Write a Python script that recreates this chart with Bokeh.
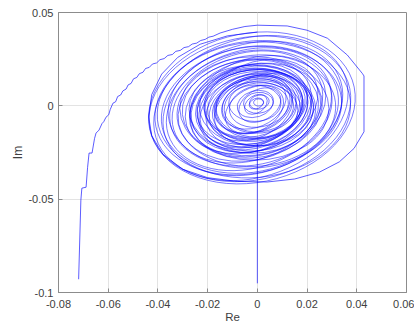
from bokeh.plotting import figure
from bokeh.models import FixedTicker
from bokeh.embed import file_html
from bokeh.resources import INLINE

# ---- data ----
# tail: vertical segment at Re = 0
tail_re = [0.0, 0.0]
tail_im = [-0.0951, -0.0205]

# left staircase arc joining into the outermost orbit
arc_re = [-0.0719, -0.0710, -0.0706, -0.0689, -0.0683, -0.0677, -0.0665, -0.0655, -0.0649, -0.0637,
          -0.0625, -0.0618, -0.0609, -0.0598, -0.0592, -0.0581, -0.0570, -0.0562, -0.0550, -0.0541,
          -0.0528, -0.0520, -0.0508, -0.0498, -0.0485, -0.0475, -0.0460, -0.0450, -0.0435, -0.0422,
          -0.0405, -0.0392, -0.0375, -0.0360, -0.0342, -0.0328, -0.0310, -0.0295, -0.0277, -0.0262,
          -0.0244, -0.0228, -0.0210, -0.0195, -0.0178, -0.0150, -0.0100, -0.0050, 0.0000,
          0.0120, 0.0200, 0.0282, 0.0362, 0.0422, 0.0429, 0.0429, 0.0389, 0.0330, 0.0250,
          0.0150, 0.0040, -0.0080, -0.0200, -0.0300, -0.0380, -0.0425, -0.0437, -0.0425, -0.0385,
          -0.0320, -0.0230, -0.0120, 0.0000]
arc_im = [-0.0929, -0.0505, -0.0441, -0.0436, -0.0330, -0.0253, -0.0253, -0.0175, -0.0146, -0.0130,
          -0.0095, -0.0085, -0.0061, -0.0048, -0.0020, 0.0014, 0.0022, 0.0050, 0.0058, 0.0080,
          0.0090, 0.0112, 0.0120, 0.0145, 0.0152, 0.0172, 0.0180, 0.0200, 0.0206, 0.0224,
          0.0230, 0.0247, 0.0253, 0.0270, 0.0275, 0.0292, 0.0297, 0.0312, 0.0317, 0.0331,
          0.0336, 0.0350, 0.0356, 0.0368, 0.0373, 0.0390, 0.0410, 0.0425, 0.0432,
          0.0428, 0.0405, 0.0362, 0.0272, 0.0174, 0.0160, -0.0139, -0.0228, -0.0300, -0.0355,
          -0.0392, -0.0408, -0.0405, -0.0385, -0.0340, -0.0260, -0.0160, -0.0060, 0.0060, 0.0170,
          0.0260, 0.0330, 0.0375, 0.0395]

# spiral orbits (centre, full width / height in Re, Im units, tilt in rad)
ring_cx = [0.0005, -0.0004, 0.0008, -0.0006, 0.0004, -0.0008, 0.0010, -0.0010, 0.0006, -0.0014,
           0.0008, -0.0018, 0.0004, -0.0022, 0.0010, -0.0016, -0.0002, -0.0030, 0.0006, -0.0024,
           -0.0008, -0.0034, 0.0004, -0.0020, -0.0036, -0.0006, -0.0028, 0.0002, -0.0032, -0.0012,
           -0.0040, -0.0004, -0.0026, -0.0034, -0.0010, -0.0030, -0.0018, -0.0036, -0.0014, -0.0026,
           -0.0030, -0.0022,
           -0.0012, 0.0006, -0.0020, -0.0002, -0.0026, 0.0002, -0.0016, -0.0030, -0.0008, -0.0024]
ring_cy = [0.0018, 0.0012, 0.0020, 0.0008, 0.0016, 0.0010, 0.0004, 0.0014, -0.0002, 0.0010,
           -0.0006, 0.0006, -0.0012, 0.0002, -0.0016, 0.0008, -0.0020, -0.0004, -0.0010, 0.0004,
           -0.0024, -0.0008, 0.0000, -0.0018, -0.0004, -0.0026, -0.0010, -0.0002, -0.0022, -0.0014,
           -0.0006, -0.0026, -0.0012, -0.0018, -0.0008, -0.0020, -0.0014, -0.0010, -0.0022, -0.0012,
           -0.0016, -0.0011,
           -0.0020, -0.0008, 0.0004, -0.0024, -0.0012, -0.0016, 0.0000, -0.0028, -0.0006, -0.0018]
ring_w = [0.004, 0.006, 0.008, 0.010, 0.012, 0.015, 0.018, 0.021, 0.024, 0.027,
          0.030, 0.032, 0.034, 0.036, 0.038, 0.040, 0.042, 0.043, 0.044, 0.046,
          0.047, 0.048, 0.050, 0.051, 0.052, 0.054, 0.055, 0.056, 0.058, 0.060,
          0.062, 0.064, 0.066, 0.068, 0.070, 0.072, 0.074, 0.076, 0.078, 0.080,
          0.082, 0.084,
          0.025, 0.028, 0.031, 0.033, 0.035, 0.037, 0.039, 0.041, 0.045, 0.049]
ring_h = [0.0038, 0.0055, 0.0075, 0.0092, 0.0112, 0.014, 0.0165, 0.0195, 0.0222, 0.025,
          0.028, 0.030, 0.0315, 0.0335, 0.0352, 0.037, 0.039, 0.040, 0.041, 0.0428,
          0.0435, 0.0448, 0.0465, 0.0472, 0.0485, 0.050, 0.0512, 0.052, 0.054, 0.0555,
          0.0575, 0.0595, 0.061, 0.063, 0.065, 0.067, 0.069, 0.0705, 0.0725, 0.0745,
          0.0765, 0.080,
          0.0230, 0.0262, 0.0288, 0.0305, 0.0328, 0.0342, 0.0365, 0.0380, 0.0418, 0.0455]
ring_angle = [0.0, 0.4, 0.2, 0.6, 0.1, 0.3, 0.5, 0.0, 0.2, 0.4,
              0.1, 0.3, 0.0, 0.2, 0.4, 0.1, 0.3, 0.2, 0.0, 0.3,
              0.1, 0.2, 0.4, 0.0, 0.3, 0.2, 0.1, 0.3, 0.2, 0.0,
              0.3, 0.1, 0.2, 0.3, 0.1, 0.2, 0.3, 0.2, 0.1, 0.3,
              0.2, 0.2,
              0.5, 0.1, 0.3, 0.0, 0.4, 0.2, 0.1, 0.3, 0.0, 0.2]

x_ticks = [-0.08, -0.06, -0.04, -0.02, 0.0, 0.02, 0.04, 0.06]
x_tick_labels = ["-0.08", "-0.06", "-0.04", "-0.02", "0", "0.02", "0.04", "0.06"]
y_ticks = [-0.1, -0.05, 0.0, 0.05]
y_tick_labels = ["-0.1", "-0.05", "0", "0.05"]

LINE = "#0000ff"
FONT = "Liberation Sans"

p = figure(width=414, height=325, x_range=(-0.08, 0.06), y_range=(-0.1, 0.05),
           output_backend="svg", toolbar_location=None,
           min_border_left=58, min_border_right=8, min_border_top=12, min_border_bottom=33)

p.ellipse(x=ring_cx, y=ring_cy, width=ring_w, height=ring_h, angle=ring_angle,
          fill_alpha=0, line_color=LINE, line_width=0.8, line_alpha=0.65)
p.line(arc_re, arc_im, line_color=LINE, line_width=0.8, line_alpha=0.8)
p.line(tail_re, tail_im, line_color=LINE, line_width=0.8, line_alpha=0.8)

p.xaxis.ticker = FixedTicker(ticks=x_ticks)
p.yaxis.ticker = FixedTicker(ticks=y_ticks)
p.xaxis.major_label_overrides = {t: l for t, l in zip(x_ticks, x_tick_labels)}
p.yaxis.major_label_overrides = {t: l for t, l in zip(y_ticks, y_tick_labels)}
p.xaxis.axis_label = "Re"
p.yaxis.axis_label = "Im"

for ax in (p.xaxis[0], p.yaxis[0]):
    ax.major_label_text_font = FONT
    ax.major_label_text_font_size = "11px"
    ax.major_label_text_color = "#404040"
    ax.axis_label_text_font = FONT
    ax.axis_label_text_font_style = "normal"
    ax.axis_label_text_color = "#404040"
    ax.axis_line_color = "#8c8c8c"
    ax.major_tick_line_color = "#8c8c8c"
    ax.major_tick_in = 4
    ax.major_tick_out = 0
    ax.minor_tick_line_color = None
p.xaxis.axis_label_text_font_size = "11.5px"
p.yaxis.axis_label_text_font_size = "12px"
p.xaxis.major_label_standoff = 7
p.xaxis.axis_label_standoff = 0
p.yaxis.major_label_standoff = 5
p.yaxis.axis_label_standoff = 0

p.grid.grid_line_color = "#e3e3e3"
p.grid.grid_line_width = 1
p.outline_line_color = "#8c8c8c"
p.outline_line_alpha = 1
p.background_fill_color = "white"
p.border_fill_color = "white"

open("out.html", "w").write(file_html(p, INLINE))
